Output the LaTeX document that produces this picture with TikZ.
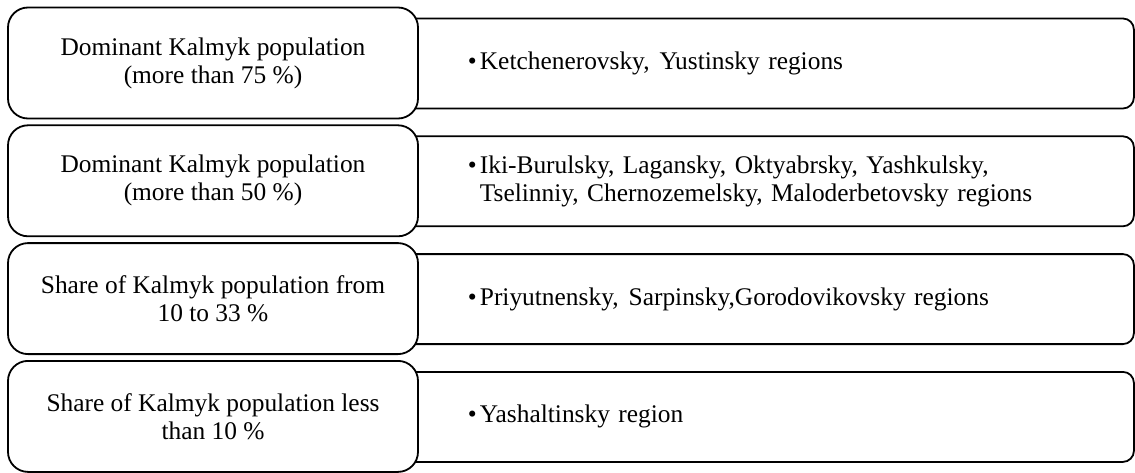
\documentclass[tikz,border=0pt]{standalone}
\usepackage{fontspec}
\setmainfont{Liberation Serif}
\newcommand{\bitem}{\makebox[12pt][l]{\textbullet}}
\begin{document}
\begin{tikzpicture}[x=1pt,y=-1pt,
  leftbox/.style={draw, line width=1.8pt, rounded corners=20pt, fill=white,
    minimum width=410pt, minimum height=111pt, align=center, inner sep=0pt,
    font=\fontsize{25.4}{28}\selectfont},
  rightbox/.style={draw, line width=1.8pt, rounded corners=11pt, fill=white,
    minimum width=743pt, minimum height=90pt, inner ysep=0pt, inner xsep=0pt,
    text width=743pt, align=left, font=\fontsize{25.4}{28}\selectfont}]
\useasboundingbox (0,0) rectangle (1135,473);
\foreach \i/\t/\r in {%
  0/{Dominant Kalmyk population\\(more than 75 \%)}/{\bitem Ketchenerovsky,\hspace{10pt}Yustinsky regions},%
  1/{Dominant Kalmyk population\\(more than 50 \%)}/{\bitem Iki-Burulsky, Lagansky, Oktyabrsky, Yashkulsky,\\\hspace*{12pt}Tselinniy, Chernozemelsky, Maloderbetovsky regions},%
  2/{Share of Kalmyk population from\\10 to 33 \%}/{\bitem Priyutnensky,\hspace{10pt}Sarpinsky,Gorodovikovsky regions},%
  3/{Share of Kalmyk population less\\than 10 \%}/{\bitem Yashaltinsky region}}{
  \node[rightbox, anchor=west] (r\i) at (390, 63.5+117.8*\i) {\hspace*{77pt}\parbox[c]{620pt}{\r}};
  \node[leftbox] (l\i) at (213, 63+117.8*\i) {\t};
}
\end{tikzpicture}
\end{document}
